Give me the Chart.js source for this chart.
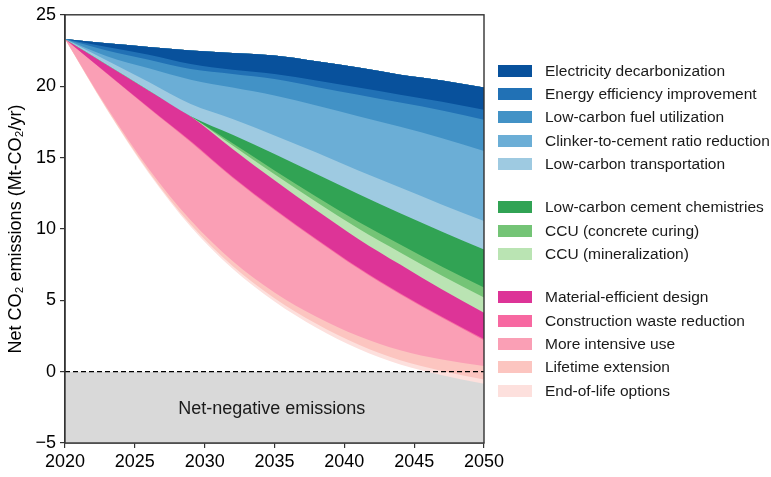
<!DOCTYPE html>
<html>
<head>
<meta charset="utf-8">
<script src="https://cdn.jsdelivr.net/npm/chart.js@4/dist/chart.umd.min.js"></script>
<style>
  html, body { margin: 0; padding: 0; background: #fff; }
  #wrap { position: relative; width: 771px; height: 477px; font-family: "Liberation Sans", Arial, sans-serif; }
  #legend { position: absolute; left: 498px; top: 0; }
  .item { position: absolute; left: 0; height: 24px; display: flex; align-items: center; white-space: nowrap; font-size: 15.5px; color: #1a1a1a; }
  .sw { width: 34px; height: 12px; margin-right: 13px; flex: none; }
</style>
</head>
<body>
<div id="wrap">
  <canvas id="c" width="771" height="477"></canvas>
  <div id="legend"></div>
</div>
<script>
// Years of the pathway
const years = [2020, 2023, 2026, 2029, 2032, 2035, 2038, 2041, 2044, 2047, 2050];

// Baseline (no-action) emissions, Mt-CO2/yr
const baseline = [23.3, 23.0, 22.75, 22.5, 22.33, 22.15, 21.75, 21.3, 20.8, 20.4, 19.9];

// Reductions delivered by each measure, Mt-CO2/yr
const electricity   = [0, 0.25, 0.55, 0.95, 1.18, 1.3, 1.35, 1.4, 1.4, 1.5, 1.55];
const energyEff     = [0, 0.25, 0.35, 0.35, 0.3, 0.35, 0.45, 0.5, 0.55, 0.6, 0.7];
const fuel          = [0, 0.4, 0.6, 0.75, 0.95, 1.15, 1.3, 1.5, 1.7, 1.95, 2.2];
const clinker       = [0, 0.3, 0.95, 1.7, 2.2, 2.8, 3.3, 3.8, 4.25, 4.65, 4.9];
const transport     = [0, 0.3, 0.6, 0.85, 1.1, 1.3, 1.5, 1.65, 1.8, 1.9, 2.0];
const cementChem    = [0, 0, 0, 0, 0.6, 1.15, 1.6, 1.95, 2.2, 2.45, 2.65];
const ccuCuring     = [0, 0, 0, 0, 0.15, 0.27, 0.37, 0.47, 0.55, 0.63, 0.7];
const ccuMineral    = [0, 0, 0, 0, 0.25, 0.43, 0.58, 0.73, 0.85, 0.97, 1.07];
const materialEff   = [0, 0.6, 1.2, 1.75, 1.95, 2.0, 2.0, 2.0, 2.0, 1.9, 1.85];
const wasteRed      = [0, 0.03, 0.05, 0.06, 0.07, 0.08, 0.08, 0.08, 0.08, 0.08, 0.08];
const intensiveUse  = [0, 2.37, 4.25, 5.49, 5.83, 5.77, 5.37, 4.72, 3.92, 2.92, 1.8];
const lifetimeExt   = [0, 0.1, 0.2, 0.3, 0.35, 0.4, 0.5, 0.6, 0.7, 0.8, 0.95];
const endOfLife     = [0, 0.05, 0.1, 0.15, 0.2, 0.24, 0.28, 0.3, 0.3, 0.3, 0.3];

const measureLabels = [
  'Electricity decarbonization', 'Energy efficiency improvement', 'Low-carbon fuel utilization',
  'Clinker-to-cement ratio reduction', 'Low-carbon transportation',
  'Low-carbon cement chemistries', 'CCU (concrete curing)', 'CCU (mineralization)',
  'Material-efficient design', 'Construction waste reduction', 'More intensive use',
  'Lifetime extension', 'End-of-life options'
];
const measureGroups = [0, 0, 0, 0, 0, 1, 1, 1, 2, 2, 2, 2, 2];
const measureColors = [
  '#08519c', '#2171b5', '#4292c6', '#6baed6', '#9ecae1',
  '#31a354', '#74c476', '#bae4b3',
  '#dd3497', '#f768a1', '#fa9fb5', '#fcc5c0', '#fde0dd'
];
const measures = [electricity, energyEff, fuel, clinker, transport, cementChem, ccuCuring,
  ccuMineral, materialEff, wasteRed, intensiveUse, lifetimeExt, endOfLife];

const xTicks = [2020, 2025, 2030, 2035, 2040, 2045, 2050];
const yTicks = [-5, 0, 5, 10, 15, 20, 25];
const netZero = 0;
const yFloor = -5;
const negLabel = 'Net-negative emissions';
const yTitle = 'Net CO\u2082 emissions (Mt-CO\u2082/yr)';

const FONT = '"Liberation Sans", Arial, sans-serif';

// Emission level remaining after each measure is applied, top to bottom
const levels = [baseline];
measures.forEach((m, k) => {
  levels.push(levels[k].map((v, i) => +(v - m[i]).toFixed(3)));
});
const toPts = arr => arr.map((v, i) => ({ x: years[i], y: v }));

const datasets = [{
  label: 'Baseline', data: toPts(baseline), fill: false,
  borderColor: 'rgba(0,0,0,0)', borderWidth: 0, pointRadius: 0, order: 0
}];
measures.forEach((m, k) => {
  // each band is filled up to the baseline; lower bands are drawn first and the
  // upper ones painted over them, so neighbouring bands join without seams
  datasets.push({
    label: measureLabels[k], data: toPts(levels[k + 1]), fill: 0,
    backgroundColor: measureColors[k], borderColor: 'rgba(0,0,0,0)', borderWidth: 0,
    pointRadius: 0, order: 0
  });
});
// net-negative zone
datasets.push({
  label: 'negative', data: [{ x: years[0], y: netZero }, { x: years[years.length - 1], y: netZero }],
  fill: { value: yFloor }, backgroundColor: '#d9d9d9', borderColor: 'rgba(0,0,0,0)',
  borderWidth: 0, pointRadius: 0, order: 1
});
// zero line
datasets.push({
  label: 'zero', data: [{ x: years[0], y: netZero }, { x: years[years.length - 1], y: netZero }],
  fill: false, borderColor: '#000', borderWidth: 1.3, borderDash: [5, 3], pointRadius: 0, order: -1
});

const framePlugin = {
  id: 'frame',
  afterDatasetsDraw(chart) {
    const { ctx, chartArea: a, scales: { x, y } } = chart;
    ctx.save();
    ctx.fillStyle = '#1a1a1a';
    ctx.font = '18px ' + FONT;
    ctx.textAlign = 'center';
    ctx.textBaseline = 'middle';
    ctx.fillText(negLabel, x.getPixelForValue(2034.8), y.getPixelForValue(-2.6));
    ctx.strokeStyle = '#333';
    ctx.lineWidth = 1.4;
    ctx.strokeRect(a.left, a.top, a.right - a.left, a.bottom - a.top);
    ctx.restore();
  }
};

new Chart(document.getElementById('c'), {
  type: 'line',
  data: { datasets },
  options: {
    responsive: false,
    animation: false,
    events: [],
    elements: { line: { cubicInterpolationMode: 'monotone' } },
    layout: { autoPadding: false, padding: { left: 0, right: 287, top: 13, bottom: 0 } },
    plugins: { legend: { display: false }, tooltip: { enabled: false } },
    scales: {
      x: {
        type: 'linear', min: 2020, max: 2050,
        afterBuildTicks: s => { s.ticks = xTicks.map(v => ({ value: v })); },
        ticks: { color: '#000', font: { family: FONT, size: 18 }, padding: 3, maxRotation: 0, callback: v => String(v) },
        grid: { drawOnChartArea: false, drawTicks: true, tickLength: 5, color: '#333', lineWidth: 1.2 },
        border: { display: true, color: '#333', width: 1.4 },
        afterFit: s => { s.height = 34; }
      },
      y: {
        type: 'linear', min: -5, max: 25,
        afterBuildTicks: s => { s.ticks = yTicks.map(v => ({ value: v })); },
        ticks: { color: '#000', font: { family: FONT, size: 18 }, padding: 4, callback: v => (v < 0 ? '\u2212' + Math.abs(v) : String(v)) },
        grid: { drawOnChartArea: false, drawTicks: true, tickLength: 5, color: '#333', lineWidth: 1.2 },
        border: { display: true, color: '#333', width: 1.4 },
        title: { display: true, text: yTitle, color: '#000', font: { family: FONT, size: 18 }, padding: { top: 5, bottom: 4 } },
        afterFit: s => { s.width = 65; }
      }
    }
  },
  plugins: [framePlugin]
});

// legend, grouped by measure family
const legend = document.getElementById('legend');
measureLabels.forEach((lab, i) => {
  const row = document.createElement('div');
  row.className = 'item';
  const center = 70.7 + i * 23.33 + measureGroups[i] * 20;
  row.style.top = (center - 12) + 'px';
  const sw = document.createElement('span');
  sw.className = 'sw';
  sw.style.background = measureColors[i];
  const tx = document.createElement('span');
  tx.textContent = lab;
  row.appendChild(sw);
  row.appendChild(tx);
  legend.appendChild(row);
});
</script>
</body>
</html>
